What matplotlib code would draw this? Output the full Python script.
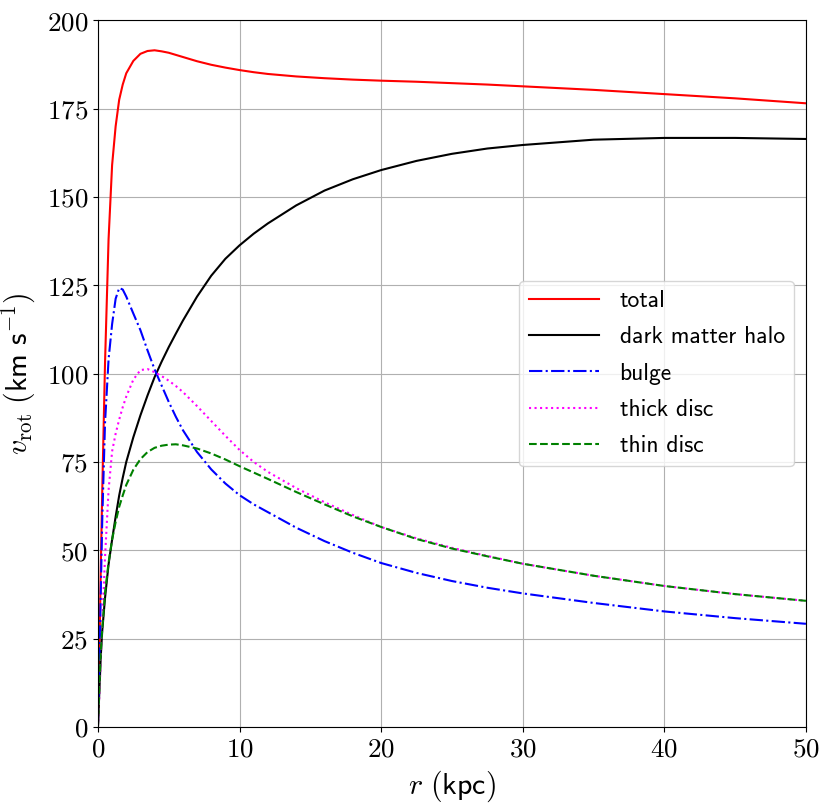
import matplotlib
matplotlib.use("Agg")
import matplotlib.pyplot as plt

plt.rcParams['mathtext.fontset'] = 'cm'

r = [0, 0.1, 0.2, 0.3, 0.5, 0.75, 1.0, 1.25, 1.5, 1.75, 2, 2.5, 3, 3.5, 4, 4.5, 5, 5.5,
     6, 7, 8, 9, 10, 11, 12, 14, 16, 18, 20, 22.5, 25, 27.5, 30, 35, 40, 45, 50]

v_total = [0, 20, 45, 66, 103, 138, 159, 170, 177.5, 181.8, 185, 188.5, 190.5, 191.3,
           191.5, 191.2, 190.8, 190.2, 189.6, 188.4, 187.4, 186.6, 185.9, 185.3, 184.8,
           184.1, 183.6, 183.2, 182.9, 182.6, 182.2, 181.8, 181.3, 180.3, 179.1, 177.9,
           176.5]
v_halo = [0, 10, 20, 27, 36.5, 46, 53, 59.5, 65.5, 70.5, 75, 82, 88.2, 93.8, 99, 103.4,
          107.5, 111.3, 115, 121.8, 127.7, 132.5, 136.3, 139.6, 142.5, 147.6, 151.8, 155,
          157.6, 160.2, 162.2, 163.7, 164.7, 166.2, 166.7, 166.7, 166.4]
v_bulge = [0, 18, 38, 58, 86, 104, 114, 121.2, 124.2, 123.8, 121.8, 117, 112.3, 106.6,
           101.2, 96.6, 92, 87.8, 84, 77.8, 72.9, 68.9, 65.6, 63, 60.8, 56.4, 52.6, 49.3,
           46.4, 43.6, 41.3, 39.4, 37.8, 35.1, 32.7, 30.8, 29.2]
v_thick = [0, 9, 19, 29, 48, 67, 78, 83, 87, 90.5, 93.5, 98.3, 101, 101.3, 100.4, 99.3,
           98, 96.5, 94.8, 90.8, 86.6, 82.4, 78.4, 75, 72.2, 67.6, 63.6, 60, 56.6, 53.4,
           50.7, 48.4, 46.2, 42.8, 39.9, 37.6, 35.7]
v_thin = [0, 11, 21, 27.5, 38, 46.5, 53, 58, 62.3, 65.5, 68.5, 72.8, 75.8, 77.8, 79,
          79.6, 79.9, 80.0, 79.7, 78.8, 77.4, 75.7, 73.8, 72, 70.2, 66.5, 63, 59.6, 56.6,
          53.2, 50.5, 48.3, 46.2, 42.8, 39.9, 37.6, 35.7]

labels = ['total', 'dark matter halo', 'bulge', 'thick disc', 'thin disc']
xticks = [0, 10, 20, 30, 40, 50]
yticks = [0, 25, 50, 75, 100, 125, 150, 175, 200]

fig = plt.figure(figsize=(8.3, 8.1), dpi=100)
ax = fig.add_axes([0.118, 0.1025, 0.853, 0.8725])

ax.plot(r, v_total, color='red', lw=1.5, ls='-', label=labels[0])
ax.plot(r, v_halo, color='black', lw=1.5, ls='-', label=labels[1])
ax.plot(r, v_bulge, color='blue', lw=1.5, ls='-.', label=labels[2])
ax.plot(r, v_thick, color='magenta', lw=1.5, ls=':', label=labels[3])
ax.plot(r, v_thin, color='green', lw=1.5, ls='--', label=labels[4])

ax.set_xlim(0, 50)
ax.set_ylim(0, 200)
ax.set_xticks(xticks)
ax.set_yticks(yticks)
ax.set_xticklabels([f'${t}$' for t in xticks], fontsize=19.5)
ax.set_yticklabels([f'${t}$' for t in yticks], fontsize=19.5)
ax.grid(True, color='#b0b0b0', lw=0.8)
ax.set_axisbelow(True)

ax.set_xlabel(r'$r\ \mathsf{(kpc)}$', fontsize=21.5, labelpad=4)
ax.set_ylabel(r'$v_{\rm rot}\ \mathsf{(km\ s^{-1})}$', fontsize=21.5, labelpad=6)

leg = ax.legend(loc='center right', prop={'family': 'cmss10', 'size': 17},
                handlelength=3.0, handletextpad=0.85, labelspacing=0.6,
                borderaxespad=0.5)

fig.savefig('out.png', dpi=100)
